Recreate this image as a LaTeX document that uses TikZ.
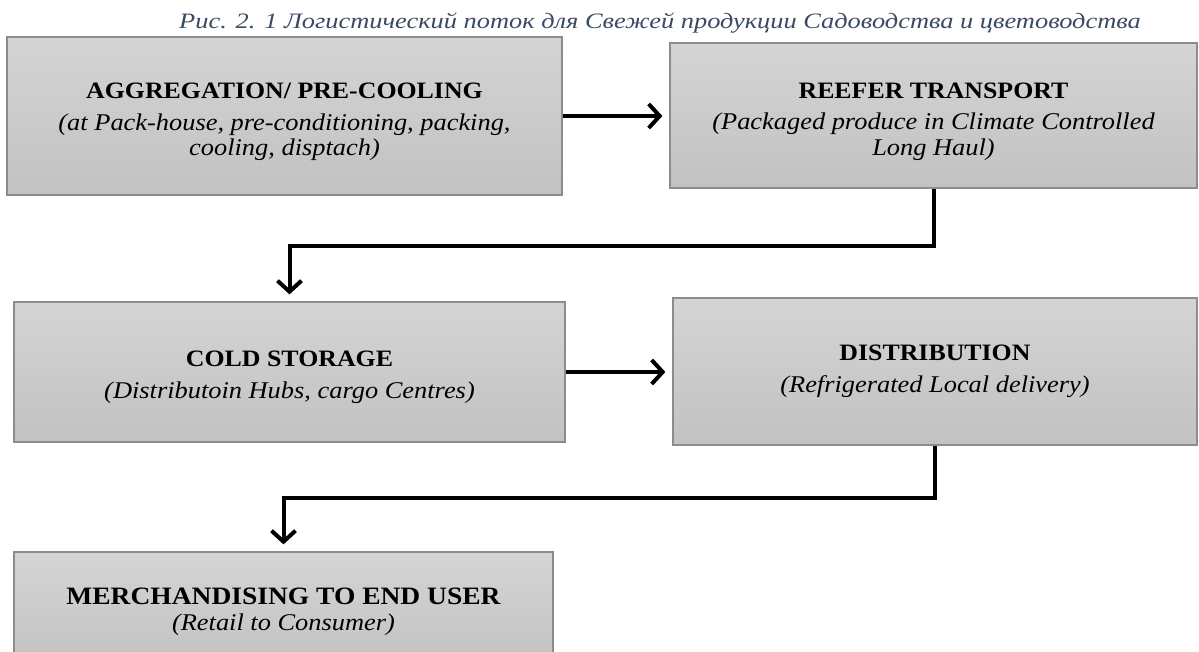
\documentclass[tikz,border=0pt]{standalone}
\usepackage{fontspec}
\usetikzlibrary{arrows.meta}
\newfontfamily\boxfont[FakeStretch=1.1]{Liberation Serif}
\newfontfamily\capfont[FakeStretch=1.2]{Liberation Serif}
\definecolor{capblue}{RGB}{58,74,98}
\definecolor{boxtop}{RGB}{212,212,212}
\definecolor{boxbot}{RGB}{194,194,194}
\definecolor{boxline}{RGB}{140,140,140}
\newcommand{\ttl}[1]{{\bfseries\fontsize{23.5}{26}\selectfont #1}}
\newcommand{\sub}[1]{{\itshape\fontsize{24}{25.5}\selectfont #1}}
\begin{document}
\begin{tikzpicture}[x=1pt,y=-1pt,
  box/.style={draw=boxline, line width=1.2pt, top color=boxtop, bottom color=boxbot,
    inner sep=0pt, align=center, font=\boxfont\fontsize{24}{25.5}\selectfont},
  conn/.style={line width=4pt, -{Straight Barb[length=11pt,width=24pt]}, shorten >=7pt},
  capstyle/.style={font=\capfont\itshape\fontsize{22}{24}\selectfont, text=capblue, inner sep=0pt, anchor=base}]
\useasboundingbox (0,0) rectangle (1199,652);
\node[capstyle] (cap) at (660,29) {Рис. 2. 1 Логистический поток для Свежей продукции Садоводства и цветоводства};
\node[box, minimum width=555pt, minimum height=158pt] (b1) at (284.5,116)
  {\rule{0pt}{28pt}\ttl{AGGREGATION/ PRE-COOLING}\\[6pt]\sub{(at Pack-house, pre-conditioning, packing,}\\\sub{cooling, disptach)}};
\node[box, minimum width=527pt, minimum height=145pt] (b2) at (933.5,115.5)
  {\rule{0pt}{28pt}\ttl{REEFER TRANSPORT}\\[6pt]\sub{(Packaged produce in Climate Controlled}\\\sub{Long Haul)}};
\node[box, minimum width=551pt, minimum height=140pt] (b3) at (289.5,372)
  {\rule{0pt}{26pt}\ttl{COLD STORAGE}\\[6pt]\sub{(Distributoin Hubs, cargo Centres)}};
\node[box, minimum width=524pt, minimum height=147pt] (b4) at (935,371.5)
  {\ttl{DISTRIBUTION}\\[6pt]\sub{(Refrigerated Local delivery)}};
\node[box, minimum width=539pt, minimum height=120pt] (b5) at (283.5,612)
  {{\bfseries\fontsize{25}{27}\selectfont MERCHANDISING TO END USER}\\[1pt]\sub{(Retail to Consumer)}};
\coordinate (m1) at (289.5,246);
\coordinate (m2) at (283.5,498);
\draw[conn] (b1.east) -- (b1.east -| b2.west);
\draw[conn] (b2.south) |- (m1) -- (b3.north);
\draw[conn] (b3.east) -- (b3.east -| b4.west);
\draw[conn] (b4.south) |- (m2) -- (b5.north);
\end{tikzpicture}
\end{document}
